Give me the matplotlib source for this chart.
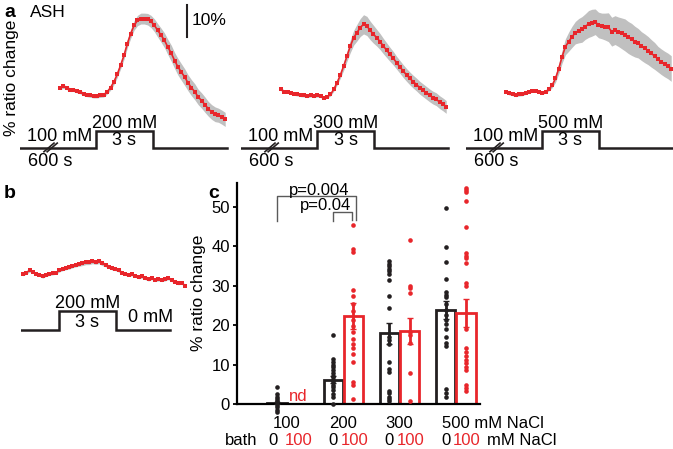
import matplotlib
matplotlib.use('Agg')
import matplotlib.pyplot as plt
import numpy as np

plt.rcParams['font.family'] = ['Liberation Sans', 'DejaVu Sans']

RED = '#e8262b'
BLK = '#231f20'
GRAY = '#c0c0c0'
BRK = '#5a5a5a'

# ---- traces (% ratio change), panel a: 200 / 300 / 500 mM, panel b: 200 -> 0 mM
tr200 = [2.6, 3.0, 2.6, 2.0, 2.0, 1.6, 1.3, 0.7, 0.4, 0.2,
         0.0, 0.0, 0.2, 0.4, 1.3, 2.6, 4.4, 6.8, 9.6, 12.7,
         16.4, 19.5, 22.1, 23.6, 24.2, 24.2, 24.0, 23.3, 22.1, 20.5,
         19.0, 17.4, 15.3, 13.4, 11.1, 9.1, 7.5, 5.9, 4.1, 2.6,
         1.3, -0.3, -1.4, -2.7, -4.0, -5.0, -5.7, -6.0, -6.6, -7.3]
sem200 = [0.6, 0.6, 0.6, 0.6, 0.6, 0.6, 0.6, 0.6, 0.6, 0.6,
          0.6, 0.6, 0.6, 0.7, 0.7, 0.8, 0.9, 1.0, 1.1, 1.2,
          1.3, 1.4, 1.5, 1.6, 1.7, 1.7, 1.8, 1.9, 2.0, 2.1,
          2.2, 2.3, 2.4, 2.5, 2.5, 2.6, 2.6, 2.6, 2.5, 2.5,
          2.5, 2.4, 2.4, 2.4, 2.3, 2.3, 2.3, 2.2, 2.2, 2.2]
tr300 = [2.1, 1.4, 1.4, 1.0, 0.7, 0.5, 0.3, 0.2, 0.0, 0.2,
         0.0, 0.2, 0.0, -0.5, -0.2, 0.5, 2.1, 4.2, 6.6, 9.4,
         12.5, 15.6, 18.2, 19.8, 21.4, 22.4, 21.9, 20.5, 19.3, 18.2,
         17.0, 15.6, 14.3, 13.0, 11.8, 10.4, 9.1, 7.8, 6.6, 5.5,
         4.5, 3.6, 2.6, 1.8, 1.0, 0.2, -0.5, -1.0, -1.9, -2.6, -3.4]
sem300 = [0.5, 0.5, 0.5, 0.5, 0.5, 0.5, 0.5, 0.5, 0.5, 0.5,
          0.5, 0.5, 0.5, 0.5, 0.5, 0.5, 0.6, 0.8, 1.0, 1.3,
          1.6, 2.0, 2.3, 2.6, 2.8, 3.0, 3.0, 2.9, 2.8, 2.6,
          2.5, 2.4, 2.3, 2.2, 2.1, 2.0, 2.0, 2.0, 2.0, 2.0,
          2.0, 2.0, 2.0, 2.0, 2.0, 2.0, 2.0, 2.0, 2.0, 2.0, 2.0]
tr500 = [1.4, 0.8, 0.6, 0.3, 0.5, 0.6, 1.0, 1.4, 1.7, 1.7,
         1.4, 1.0, 1.4, 2.1, 3.4, 5.5, 8.6, 12.3, 15.4, 17.0,
         18.5, 19.8, 20.4, 20.8, 21.7, 22.5, 22.9, 23.2, 22.2, 21.9,
         21.7, 21.5, 20.1, 20.6, 20.1, 19.6, 19.1, 18.3, 17.7, 17.0,
         16.5, 15.6, 14.9, 14.2, 13.3, 12.5, 11.5, 10.7, 10.0, 9.4, 8.6]
sem500 = [0.5, 0.5, 0.5, 0.5, 0.5, 0.5, 0.5, 0.5, 0.5, 0.5,
          0.5, 0.5, 0.5, 0.5, 0.8, 1.2, 1.6, 2.0, 2.5, 3.0,
          3.3, 3.5, 3.8, 4.0, 4.0, 4.2, 4.2, 4.0, 4.0, 4.0,
          4.2, 4.5, 4.5, 4.5, 4.6, 4.8, 5.0, 5.0, 5.0, 4.8,
          4.6, 4.5, 4.5, 4.4, 4.3, 4.2, 4.0, 4.0, 4.0, 4.0, 4.0]
tr_b = [0.2, 0.7, 1.4, 1.0, 0.3, 0.0, -0.5, 0.0, 0.3, 0.5,
        0.7, 1.4, 1.8, 2.1, 2.4, 2.8, 3.1, 3.4, 3.6, 3.9,
        3.9, 4.2, 4.0, 4.2, 3.6, 3.1, 2.6, 2.1, 1.8, 1.4,
        0.7, 0.3, 0.0, 0.2, -0.3, -0.7, -0.5, -1.0, -1.4, -1.0,
        -1.6, -1.4, -1.6, -1.4, -1.0, -1.6, -2.1, -2.6, -2.4, -3.4]
sem_b = [0.5, 0.5, 0.5, 0.5, 0.5, 0.5, 0.5, 0.5, 0.5, 0.5,
         0.5, 0.5, 0.5, 0.5, 0.6, 0.6, 0.6, 0.7, 0.7, 0.7,
         0.7, 0.7, 0.7, 0.7, 0.7, 0.6, 0.6, 0.6, 0.5, 0.5,
         0.5, 0.5, 0.5, 0.5, 0.5, 0.5, 0.5, 0.5, 0.5, 0.5,
         0.5, 0.5, 0.5, 0.5, 0.5, 0.5, 0.5, 0.5, 0.5, 0.5]

# ---- panel c: peak responses
conc = ['100', '200', '300', '500']
pts_0 = [[4.2, 2.5, 1.9, 1.3, 0.8, 0.4, -0.2, -0.7, -1.4, -2.0],
         [17.4, 11.3, 10.6, 9.9, 9.3, 8.5, 7.8, 7.2, 6.8, 6.1, 5.5, 4.9, 4.2, 3.6, 2.5, 1.7, 0.0],
         [36.2, 35.6, 34.9, 34.3, 33.7, 33.0, 31.4, 27.3, 24.3, 17.0, 16.3, 15.3, 10.6, 8.9, 8.1,
          3.4, 2.7, 1.9, 1.3, 0.7],
         [49.7, 39.7, 35.9, 31.8, 28.4, 27.7, 27.1, 25.4, 23.9, 22.6, 21.4, 20.3, 19.1, 17.1, 15.4,
          14.7, 3.7, 2.7, 1.9]]
pts_100 = [[],
           [45.3, 39.4, 38.6, 29.0, 27.3, 25.4, 23.6, 21.4, 19.7, 18.2, 16.5, 15.1, 14.2, 12.7, 10.6,
            5.7, 4.9, 1.3],
           [41.5, 30.0, 29.5, 28.2, 18.2, 17.6, 15.4, 7.9, 0.7],
           [54.8, 54.2, 53.6, 51.4, 44.8, 38.3, 37.6, 36.9, 35.8, 30.7, 30.0, 19.1, 14.2, 13.3, 12.2,
            11.2, 10.3, 9.5, 8.5, 4.8, 4.0, 3.3]]
mean_0 = [0.2, 6.2, 17.9, 23.8]
sem_0 = [0.3, 1.0, 2.7, 2.3]
mean_100 = [np.nan, 22.4, 18.5, 23.0]
sem_100 = [np.nan, 3.3, 3.4, 3.5]

W, H = 673, 449
fig = plt.figure(figsize=(W / 100, H / 100), dpi=100)


def box(x0, y0, x1, y1):
    return [x0 / W, 1 - y1 / H, (x1 - x0) / W, (y1 - y0) / H]


def P(x, y):
    return x / W, 1 - y / H


def trace(ax, y, s, t0, t1):
    y = np.array(y)
    s = np.array(s)
    t = np.linspace(t0, t1, len(y))
    ax.fill_between(t, y - s, y + s, color=GRAY, lw=0)
    ax.plot(t, y, color=RED, lw=1.2, marker='s', ms=2.6, mew=0)


def stim(ax, t_start, t_end, low, high, hi_label, lo_label=None):
    ax.plot([t_start, 0, 0, 3, 3, t_end], [low, low, high, high, low, low],
            color=BLK, lw=1.8, solid_joinstyle='miter')
    ax.text(1.5, high + 2.2, hi_label, ha='center', va='center', fontsize=13)
    ax.text(1.5, (low + high) / 2 - 0.5, '3 s', ha='center', va='center', fontsize=13)


# ---- panel a
onsets = [96, 317, 542]
for k, (y, s, lab) in enumerate([(tr200, sem200, '200 mM'), (tr300, sem300, '300 mM'),
                                   (tr500, sem500, '500 mM')]):
    left = onsets[k] - 4.0 * 19
    ax = fig.add_axes(box(left, 0, left + 209, 170))
    ax.set_xlim(-4.0, 7.0)
    ax.set_ylim(-23.1, 30)
    ax.axis('off')
    trace(ax, y, s, -1.9, 6.8)
    stim(ax, -4.0, 6.9, -16.15, -10.8, lab)
    ax.text(-3.63, -12.5, '100 mM', ha='left', va='center', fontsize=13)
    ax.text(-2.42, -20.6, '600 s', ha='center', va='center', fontsize=13)
    for d in [0, 0.17]:
        ax.plot([-2.74 + d, -2.21 + d], [-17.4, -14.7], color=BLK, lw=1.2)
    if k == 0:
        ax.plot([4.79, 4.79], [28.4, 18.4], color=BLK, lw=1.5)
        ax.text(5.05, 23.6, '10%', ha='left', va='center', fontsize=12.5)

fig.text(*P(4, 17), 'a', fontsize=14, fontweight='bold', va='baseline')
fig.text(*P(30, 17), 'ASH', fontsize=12.5, va='baseline')
fig.text(*P(12, 78), '% ratio change', rotation=90, fontsize=12.5, ha='center', va='center')

# ---- panel b
axb = fig.add_axes(box(21, 240, 190, 345))
axb.set_xlim(-2.0, 6.9)
axb.set_ylim(-21.9, 10.9)
axb.axis('off')
trace(axb, tr_b, sem_b, -1.9, 6.63)
stim(axb, -2.0, 5.85, -17.2, -11.25, '200 mM')
axb.text(4.8, -13.4, '0 mM', ha='center', va='center', fontsize=13)
fig.text(*P(4, 198), 'b', fontsize=14, fontweight='bold', va='baseline')

# ---- panel c
axc = fig.add_axes(box(237, 183, 480, 404))
x = np.arange(len(conc))
off, w = 0.18, 0.34
axc.bar(x - off, mean_0, w, fill=False, edgecolor=BLK, lw=2, zorder=2)
axc.bar(x + off, mean_100, w, fill=False, edgecolor=RED, lw=2, zorder=2)
axc.errorbar(x - off, mean_0, yerr=sem_0, fmt='none', ecolor=BLK, elinewidth=2, capsize=2.5, zorder=3)
axc.errorbar(x + off, mean_100, yerr=sem_100, fmt='none', ecolor=RED, elinewidth=2, capsize=2.5, zorder=3)
for i in range(len(conc)):
    if pts_0[i]:
        axc.scatter(np.full(len(pts_0[i]), x[i] - off), pts_0[i], s=11, color=BLK, lw=0,
                    zorder=4, clip_on=False)
    if pts_100[i]:
        axc.scatter(np.full(len(pts_100[i]), x[i] + off), pts_100[i], s=11, color=RED, lw=0,
                    zorder=4, clip_on=False)
axc.text(0.2, 1.8, 'nd', color=RED, ha='center', va='center', fontsize=12)

axc.set_xlim(-0.89, 3.43)
axc.set_ylim(0, 56)
axc.set_yticks([0, 10, 20, 30, 40, 50])
axc.set_xticks([])
axc.tick_params(axis='y', labelsize=12, length=3, width=1.3, pad=2)
for sp in ['top', 'right']:
    axc.spines[sp].set_visible(False)
axc.spines['left'].set_linewidth(1.6)
axc.spines['bottom'].set_linewidth(1.6)

# significance brackets
axc.plot([-0.18, -0.18, 1.22, 1.22], [46.4, 52.6, 52.6, 46.6], color=BRK, lw=1, clip_on=False)
axc.plot([0.82, 0.82, 1.16, 1.16], [46.4, 48.6, 48.6, 46.6], color=BRK, lw=1, clip_on=False)
axc.text(0.57, 52.9, 'p=0.004', ha='center', va='baseline', fontsize=12)
axc.text(0.68, 49.1, 'p=0.04', ha='center', va='baseline', fontsize=12)

# category labels
tr = axc.get_xaxis_transform()
for i, c in enumerate(conc[:3]):
    axc.text(x[i], -0.086, c, transform=tr, ha='center', va='center', fontsize=12)
axc.text(x[3] - 0.24, -0.086, '500 mM NaCl', transform=tr, ha='left', va='center', fontsize=12)
axc.text(-0.53, -0.167, 'bath', transform=tr, ha='right', va='center', fontsize=12)
for i in range(len(conc)):
    axc.text(x[i] - (0.25 if i == 0 else 0.18), -0.167, '0', transform=tr, ha='center',
             va='center', fontsize=12)
    axc.text(x[i] + 0.2, -0.167, '100', transform=tr, ha='center', va='center', fontsize=12,
             color=RED)
axc.text(x[3] + 0.55, -0.167, 'mM NaCl', transform=tr, ha='left', va='center', fontsize=12)

fig.text(*P(199, 293), '% ratio change', rotation=90, fontsize=12.5, ha='center', va='center')
fig.text(*P(208, 198), 'c', fontsize=14, fontweight='bold', va='baseline')

fig.savefig('out.png', dpi=100)
